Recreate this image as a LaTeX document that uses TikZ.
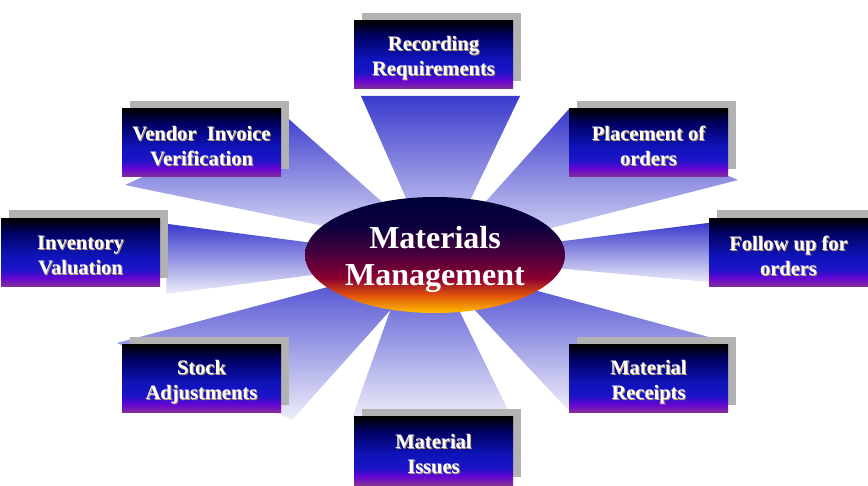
\documentclass[tikz,border=0pt]{standalone}
\usepackage{fontspec}
\setmainfont{Liberation Serif}
\usetikzlibrary{shapes.geometric,shadows}
\definecolor{bx1}{RGB}{130,50,150}
\definecolor{bx2}{RGB}{105,5,210}
\definecolor{bx3}{RGB}{28,20,200}
\definecolor{bx4}{RGB}{15,20,185}
\definecolor{bx5}{RGB}{0,0,95}
\definecolor{bx6}{RGB}{0,0,0}
\definecolor{el1}{RGB}{255,190,0}
\definecolor{el2}{RGB}{225,85,10}
\definecolor{el3}{RGB}{140,0,50}
\definecolor{el4}{RGB}{75,0,60}
\definecolor{el5}{RGB}{10,0,62}
\definecolor{el6}{RGB}{0,0,55}
\definecolor{rayblue}{RGB}{58,58,205}
\definecolor{raylight}{RGB}{238,238,250}
\definecolor{shadowgray}{RGB}{178,178,178}
\definecolor{txtshadow}{RGB}{185,160,115}
\pgfdeclareverticalshading{boxshade}{100bp}{color(0bp)=(bx1); color(25bp)=(bx1); color(31bp)=(bx2); color(37.5bp)=(bx3); color(47.5bp)=(bx4); color(65bp)=(bx5); color(75bp)=(bx6); color(100bp)=(bx6)}
\pgfdeclareverticalshading{ellshade}{100bp}{color(0bp)=(el1); color(25bp)=(el1); color(32.5bp)=(el2); color(40bp)=(el3); color(50bp)=(el4); color(62.5bp)=(el5); color(75bp)=(el6); color(100bp)=(el6)}
\tikzset{
  ray/.style={top color=rayblue, bottom color=raylight, draw=none},
  mbox/.style={rectangle, minimum width=159pt, minimum height=68pt, inner sep=0pt,
    shading=boxshade, draw=none,
    drop shadow={shadow xshift=8pt, shadow yshift=8pt, fill=shadowgray, opacity=1}},
  mtext/.style={align=center, text=white, inner sep=0pt,
    font=\fontsize{20.5}{25}\selectfont\bfseries},
  mtextsh/.style={mtext, text=txtshadow},
  centre/.style={ellipse, minimum width=260pt, minimum height=116pt, inner sep=0pt,
    shading=ellshade, draw=none, align=center, text=white,
    font=\fontsize{32}{37}\selectfont\bfseries}
}
\newcommand\mmbox[3]{%
  \node[mbox] (#1) at (#2) {};
  \node[mtextsh] (#1-sh) at ([xshift=1pt,yshift=-4pt]#1.center) {#3};
  \node[mtext] (#1-tx) at ([yshift=-3pt]#1.center) {#3};
}
\begin{document}
\begin{tikzpicture}[x=1pt,y=-1pt]
\useasboundingbox (0,0) rectangle (868,486);
\clip (0,0) rectangle (868,486);
% rays
\shade[ray] (361,96) -- (520,96) -- (444,255) -- (431,255) -- cycle;
\shade[ray] (352,418) -- (508,410) -- (432,255) -- (410,255) -- cycle;
\shade[ray] (125,185) -- (282,113) -- (435,249) -- cycle;
\shade[ray] (569,109) -- (738,180) -- (435,258) -- cycle;
\shade[ray] (168,224) -- (166,294) -- (435,259) -- cycle;
\shade[ray] (708,223) -- (720,223) -- (720,283) -- (708,282) -- (435,257) -- cycle;
\shade[ray] (117,343) -- (292,420) -- (437,258) -- cycle;
\shade[ray] (720,340) -- (568,410) -- (430,262) -- cycle;
% boxes
\mmbox{rec}{433.5,55}{Recording\\Requirements}
\mmbox{ven}{201.5,143}{Vendor\ \ Invoice\\Verification}
\mmbox{pla}{648.5,143}{Placement of\\orders}
\mmbox{inv}{80.5,252.5}{Inventory\\Valuation}
\mmbox{fol}{788.5,252.5}{Follow up for\\orders}
\mmbox{sto}{201.5,379}{Stock\\Adjustments}
\mmbox{rcp}{648.5,379}{Material\\Receipts}
\mmbox{iss}{433.5,451}{Material\\Issues}
% centre
\node[centre] (mm) at (435,255) {};
\node[align=center, text=white, inner sep=0pt, font=\fontsize{32}{37}\selectfont\bfseries]
  (mm-tx) at ([yshift=-4pt]mm.center) {Materials\\Management};
\end{tikzpicture}
\end{document}
